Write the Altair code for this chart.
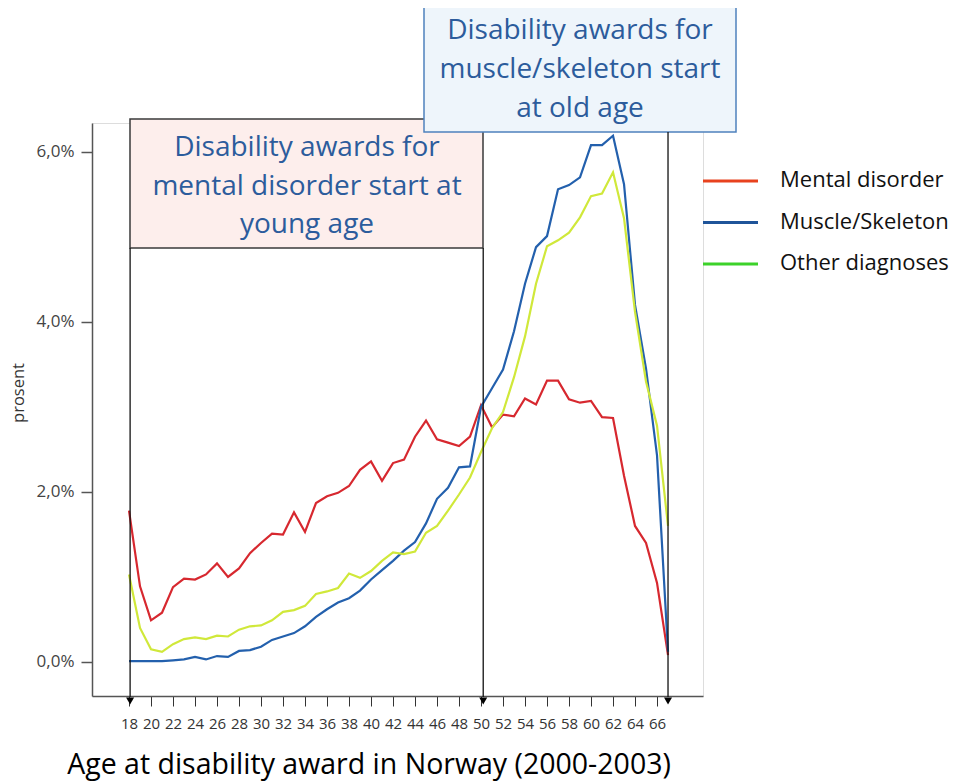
import altair as alt
import pandas as pd

# ---------------- data ----------------
ages = list(range(18, 68))
mental = [1.78, 0.89, 0.49, 0.58, 0.88, 0.98, 0.97, 1.03, 1.16, 1.00,
          1.10, 1.28, 1.40, 1.51, 1.50, 1.76, 1.53, 1.87, 1.95, 1.99,
          2.07, 2.26, 2.36, 2.13, 2.34, 2.38, 2.65, 2.84, 2.62, 2.58,
          2.54, 2.65, 3.02, 2.76, 2.91, 2.89, 3.10, 3.03, 3.31, 3.31,
          3.09, 3.05, 3.07, 2.88, 2.87, 2.19, 1.60, 1.40, 0.93, 0.08]
muscle = [0.01, 0.01, 0.01, 0.01, 0.02, 0.03, 0.06, 0.03, 0.07, 0.06,
          0.13, 0.14, 0.18, 0.26, 0.30, 0.34, 0.42, 0.53, 0.62, 0.70,
          0.75, 0.84, 0.97, 1.08, 1.19, 1.31, 1.41, 1.63, 1.92, 2.05,
          2.29, 2.30, 3.00, 3.22, 3.44, 3.89, 4.45, 4.88, 5.01, 5.56,
          5.61, 5.70, 6.08, 6.08, 6.19, 5.62, 4.20, 3.45, 2.43, 0.12]
other = [1.03, 0.40, 0.15, 0.12, 0.21, 0.27, 0.29, 0.27, 0.31, 0.30,
         0.38, 0.42, 0.43, 0.49, 0.59, 0.61, 0.66, 0.80, 0.83, 0.87,
         1.04, 0.99, 1.07, 1.19, 1.29, 1.27, 1.30, 1.52, 1.60, 1.78,
         1.97, 2.17, 2.47, 2.75, 2.94, 3.35, 3.83, 4.45, 4.89, 4.96,
         5.05, 5.23, 5.48, 5.51, 5.76, 5.22, 4.12, 3.30, 2.78, 1.60]
series_names = ["Mental disorder", "Muscle/Skeleton", "Other diagnoses"]
line_colors = ["#d7282f", "#2360ad", "#d0e83a"]
legend_colors = ["#e8421e", "#1f5499", "#3cd22a"]
x_ticks = list(range(18, 67, 2))
y_ticks = [0, 2, 4, 6]
arrow_ages = [18.1, 50.2, 67.0]
box_young_lines = ["Disability awards for", "mental disorder start at", "young age"]
box_old_lines = ["Disability awards for", "muscle/skeleton start", "at old age"]
x_title = "Age at disability award in Norway (2000-2003)"
y_title = "prosent"

rows = []
for name, vals in zip(series_names, [mental, muscle, other]):
    for a, v in zip(ages, vals):
        rows.append({"age": a, "value": v, "series": name})
df = pd.DataFrame(rows)

FONT = "Open Sans"
TXT_BLUE = "#2c5c9c"

xs = alt.Scale(domain=[14.636, 70.18], nice=False, zero=False)
ys = alt.Scale(domain=[-0.40, 6.34], nice=False, zero=False)

xaxis = alt.Axis(values=x_ticks, title=None, grid=False, domainColor="#555",
                 domainWidth=1.5, tickColor="#333", tickSize=10, tickWidth=1,
                 labelFont=FONT, labelFontSize=15, labelColor="#333",
                 labelPadding=10, labelFlush=False, labelOverlap=False)
yaxis = alt.Axis(values=y_ticks, title=None, grid=False, domainColor="#555",
                 domainWidth=1.5, tickColor="#555", tickSize=11, tickWidth=1.5,
                 labelFont=FONT, labelFontSize=17, labelColor="#444",
                 labelPadding=7,
                 labelExpr="replace(format(datum.value, '.1f'), '.', ',') + '%'")


def X():
    return alt.X("age:Q", scale=xs, axis=xaxis)


lines = alt.Chart(df).mark_line(strokeWidth=2.2).encode(
    x=X(),
    y=alt.Y("value:Q", scale=ys, axis=yaxis),
    color=alt.Color("series:N",
                    scale=alt.Scale(domain=series_names, range=line_colors),
                    legend=None),
)


def text_layer(txt, x, y, size, color, angle=None, align="center"):
    kw = dict(fontSize=size, color=color, align=align, baseline="middle", font=FONT)
    if angle is not None:
        kw["angle"] = angle
    return alt.Chart(pd.DataFrame({"t": [txt]})).mark_text(**kw).encode(
        x=alt.value(x), y=alt.value(y), text="t:N")


one = pd.DataFrame({"k": [0]})

pink_box = alt.Chart(one).mark_rect(fill="#fdeeec", stroke="#3a3a3a",
                                     strokeWidth=1.5).encode(
    x=alt.value(38), x2=alt.value(391), y=alt.value(-4), y2=alt.value(125))
blue_box = alt.Chart(one).mark_rect(fill="#eef5fb", stroke="#4f81bd",
                                     strokeWidth=1.5).encode(
    x=alt.value(332), x2=alt.value(644), y=alt.value(-120), y2=alt.value(9))

arrows_young = pd.DataFrame({"age": arrow_ages[:2]})
arrows_old = pd.DataFrame({"age": arrow_ages[2:]})
arrows_all = pd.DataFrame({"age": arrow_ages})

rule_young = alt.Chart(arrows_young).mark_rule(color="#111", strokeWidth=1.3).encode(
    x=X(), y=alt.value(125), y2=alt.value(574))
rule_old = alt.Chart(arrows_old).mark_rule(color="#111", strokeWidth=1.3).encode(
    x=X(), y=alt.value(9), y2=alt.value(574))
heads = alt.Chart(arrows_all).mark_point(shape="triangle-down", filled=True,
                                         color="#000", size=64, opacity=1).encode(
    x=X(), y=alt.value(578))

layers = [lines, pink_box, blue_box, rule_young, rule_old, heads]

for i, t in enumerate(box_young_lines):
    layers.append(text_layer(t, 215, 25 + 38.5 * i, 28, TXT_BLUE))
for i, t in enumerate(box_old_lines):
    layers.append(text_layer(t, 488, -92 + 39 * i, 28, TXT_BLUE))

for i, (lab, col) in enumerate(zip(series_names, legend_colors)):
    yy = 58 + 41.5 * i
    layers.append(alt.Chart(one).mark_rule(color=col, strokeWidth=3).encode(
        x=alt.value(611), x2=alt.value(666), y=alt.value(yy)))
    layers.append(text_layer(lab, 688, yy - 1, 22, "#111", align="left"))

layers.append(text_layer(x_title, 277, 642, 28.5, "#000"))
layers.append(text_layer(y_title, -73, 270, 16.5, "#333", angle=270))

chart = alt.layer(*layers).properties(
    width=611, height=573,
    autosize=alt.AutoSizeParams(type="none"),
    padding={"left": 84, "top": 115, "right": 249, "bottom": 85},
).configure_view(stroke=None).configure(font=FONT)

chart.save("out.html", embed_options={"renderer": "svg", "actions": False})
